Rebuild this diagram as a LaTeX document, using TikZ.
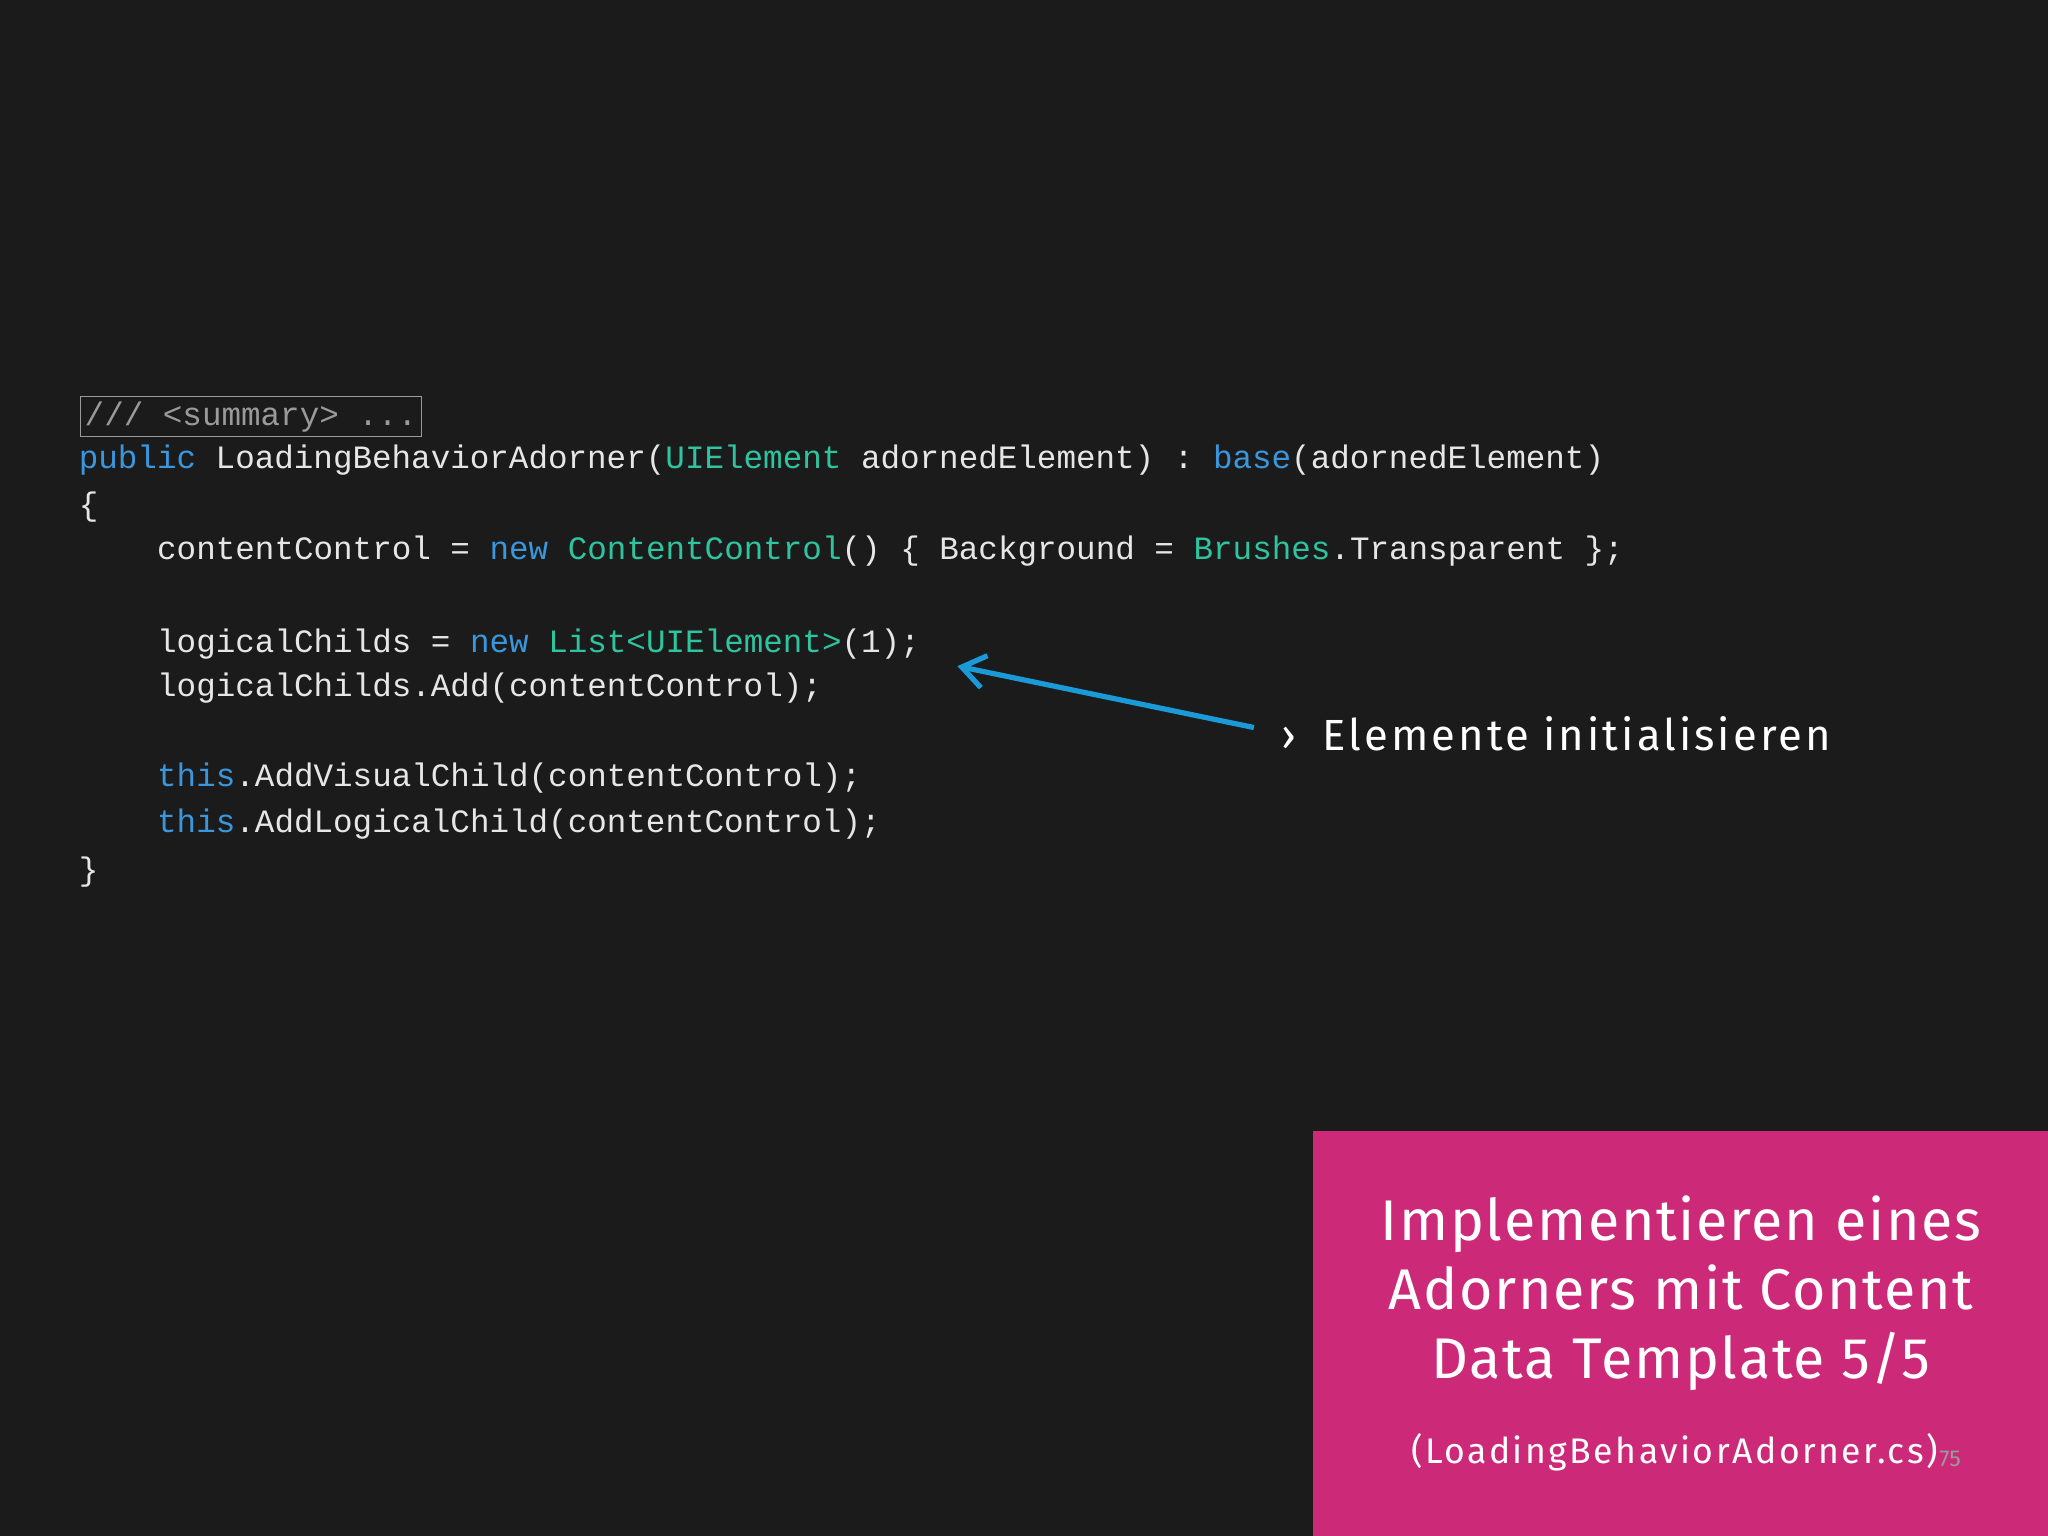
\documentclass[tikz,border=0pt]{standalone}
\usepackage{fontspec}
\setmonofont{Liberation Mono}
\setsansfont{Fira Sans}
\usetikzlibrary{arrows.meta}
\definecolor{bg}{HTML}{1B1B1B}
\definecolor{kw}{HTML}{3A96DD}
\definecolor{ty}{HTML}{2EC4A0}
\definecolor{tx}{HTML}{E6E6E6}
\definecolor{gr}{HTML}{9A9A9A}
\definecolor{pink}{HTML}{CC2A78}
\definecolor{arr}{HTML}{1A9AD6}
\newcommand{\K}[1]{\textcolor{kw}{#1}}
\newcommand{\T}[1]{\textcolor{ty}{#1}}
\tikzset{code/.style={anchor=west,inner sep=0pt,text=tx,font=\fontsize{14.2}{16}\ttfamily},
 title/.style={text=white,font=\sffamily\fontsize{25}{30}\selectfont\addfontfeatures{LetterSpace=3},align=center}}
\begin{document}
\begin{tikzpicture}[x=0.02cm,y=-0.02cm]
\fill[bg] (0,0) rectangle (1568,1176);
\fill[pink] (1005,866) rectangle (1568,1176);
\node[code,text=gr,draw=gr,inner sep=2pt] (sum) at (61,319) {/// <summary> ...};
\node[code] (l1) at (60,352) {\K{public} LoadingBehaviorAdorner(\T{UIElement} adornedElement) : \K{base}(adornedElement)};
\node[code] (l2) at (60,388) {\{};
\node[code] (l3) at (120,422) {contentControl = \K{new} \T{ContentControl}() \{ Background = \T{Brushes}.Transparent \};};
\node[code] (l4) at (120,493) {logicalChilds = \K{new} \T{List<UIElement>}(1);};
\node[code] (l5) at (120,527) {logicalChilds.Add(contentControl);};
\node[code] (l6) at (120,596) {\K{this}.AddVisualChild(contentControl);};
\node[code] (l7) at (120,631) {\K{this}.AddLogicalChild(contentControl);};
\node[code] (l8) at (60,668) {\}};
\node[anchor=west,inner sep=0pt,text=white,font=\sffamily\fontsize{19}{22}\selectfont\addfontfeatures{LetterSpace=7}] (lab) at (981,562) {›\hspace{0.6em}Elemente initialisieren};
\coordinate (as) at (960,557);
\coordinate (ae) at (733,510);
\draw[arr,line width=0.08cm,-{Straight Barb[length=0.35cm,width=0.5cm]}] (as) -- (ae);
\node[title] (t) at (1287,990) {Implementieren eines\\Adorners mit Content\\Data Template 5/5};
\node[text=white,font=\sffamily\fontsize{15.5}{18}\selectfont\addfontfeatures{LetterSpace=7}] (f) at (1282,1112) {(LoadingBehaviorAdorner.cs)};
\node[text=gr,font=\sffamily\fontsize{10}{12}\selectfont] (pg) at (1493,1117) {75};
\end{tikzpicture}
\end{document}
